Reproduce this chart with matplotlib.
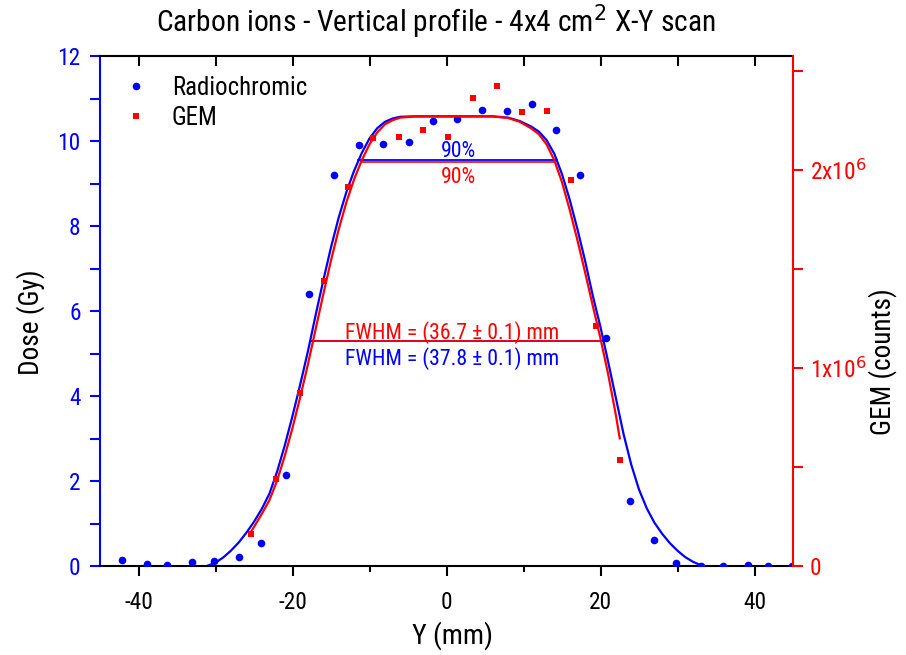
import os
import matplotlib
matplotlib.use("Agg")
import matplotlib.pyplot as plt
from matplotlib.ticker import MultipleLocator, FixedLocator, FuncFormatter
from matplotlib import font_manager
from matplotlib.font_manager import FontProperties

plt.rcParams['axes.unicode_minus'] = False

# pick a narrow sans font if one is installed
files = {os.path.basename(f.fname).lower(): f for f in font_manager.fontManager.ttflist}
prefs = ['liberationsansnarrow-regular.ttf', 'notosans-condensed.ttf',
         'robotocondensed-regular.ttf', 'roboto_condensed-regular.ttf',
         'opensans-condensed.ttf', 'opensans_condensed-regular.ttf',
         'dejavusanscondensed.ttf']
entry = None
for p in prefs:
    if p in files:
        entry = files[p]
        break
if entry is not None:
    FP = FontProperties(fname=entry.fname)
    FAM = entry.name
    K = 1.12
else:
    FP = FontProperties(family='Liberation Sans')
    FAM = 'Liberation Sans'
    K = 1.0
plt.rcParams['font.family'] = [FAM, 'DejaVu Sans']
plt.rcParams['mathtext.fontset'] = 'custom'
plt.rcParams['mathtext.rm'] = FAM
plt.rcParams['mathtext.it'] = FAM
plt.rcParams['mathtext.bf'] = FAM

def fp(size):
    f = FP.copy()
    f.set_size(size * K)
    return f

BLUE = '#0000FF'
RED = '#FF0000'

# ---- Radiochromic (Dose, Gy) ----
radio_x = [-42.2, -38.9, -36.3, -33.0, -30.2, -26.9, -24.1, -20.9, -17.8, -14.6,
           -11.3, -8.2, -4.9, -1.8, 1.4, 4.6, 7.8, 11.1, 14.2, 17.4,
           20.7, 23.8, 27.0, 29.8, 33.0, 35.9, 39.1, 41.8, 44.9]
radio_y = [0.14, 0.05, 0.02, 0.09, 0.12, 0.22, 0.53, 2.15, 6.39, 9.19,
           9.90, 9.93, 9.97, 10.48, 10.52, 10.73, 10.70, 10.88, 10.25, 9.19,
           5.37, 1.53, 0.61, 0.06, 0.01, 0.0, 0.02, 0.0, 0.0]

# ---- GEM (counts) ----
gem_x = [-25.4, -22.2, -19.0, -15.9, -12.75, -9.5, -6.2, -3.05, 0.15, 3.4,
         6.6, 9.8, 13.0, 16.2, 19.4, 22.5]
gem_y = [0.162e6, 0.441e6, 0.875e6, 1.438e6, 1.914e6, 2.160e6, 2.167e6, 2.202e6,
         2.167e6, 2.362e6, 2.423e6, 2.291e6, 2.298e6, 1.948e6, 1.209e6, 0.535e6]

# ---- fit curves ----
radio_fit_x = [-31.1, -30, -29, -28, -27, -26, -25, -24, -23, -22, -21, -20, -19, -18,
               -17, -16, -15, -14, -13, -12, -11, -10, -9, -8, -7, -6, -4, -2, 0, 2,
               4, 6, 8, 9.5, 11, 12, 13, 14, 15, 16, 17, 18, 19, 20, 21, 22, 23, 24,
               25, 26, 27, 28, 29, 30, 31, 32, 33, 33.4]
radio_fit_y = [0.0, 0.08, 0.20, 0.36, 0.55, 0.78, 1.04, 1.34, 1.70, 2.22, 2.84, 3.53, 4.27, 5.05,
               5.90, 6.72, 7.50, 8.20, 8.80, 9.30, 9.72, 10.06, 10.30, 10.45, 10.53, 10.57, 10.58, 10.58, 10.58, 10.58,
               10.58, 10.58, 10.55, 10.47, 10.34, 10.22, 10.02, 9.70, 9.22, 8.62, 7.93, 7.18, 6.36, 5.62, 4.80, 3.95, 3.10, 2.38,
               1.80, 1.36, 1.02, 0.76, 0.54, 0.36, 0.21, 0.10, 0.02, 0.0]

gem_fit_x = [-25.4, -25, -24, -23, -22, -21, -20, -19, -18, -17, -16, -15, -14, -13,
             -12, -11, -10, -9, -8, -7, -6, -4, -2, 0, 2, 4, 6, 8, 9.5, 11,
             12, 13, 14, 15, 16, 17, 18, 19, 20, 21, 22, 22.5]
gem_fit_y = [0.172e6, 0.197e6, 0.262e6, 0.332e6, 0.431e6, 0.556e6, 0.697e6, 0.852e6, 1.017e6, 1.195e6,
             1.371e6, 1.542e6, 1.699e6, 1.836e6, 1.952e6, 2.048e6, 2.128e6, 2.188e6, 2.229e6, 2.250e6,
             2.263e6, 2.269e6, 2.269e6, 2.269e6, 2.269e6, 2.269e6, 2.269e6, 2.261e6, 2.242e6, 2.209e6,
             2.179e6, 2.128e6, 2.048e6, 1.937e6, 1.798e6, 1.645e6, 1.482e6, 1.313e6, 1.148e6, 0.967e6,
             0.761e6, 0.644e6]

# level lines (90% and FWHM): x_start, x_end, level
radio_90 = [-11.5, 14.4, 9.56]
gem_90 = [-11.1, 14.0, 2.038e6]
radio_half = [-17.6, 20.4, 5.29]
gem_half = [-17.3, 20.0, 1.134e6]

fig = plt.figure(figsize=(9.06, 6.55), dpi=100)
ax = fig.add_axes([100/906, 1-566/655, 693/906, 510/655])
ax2 = ax.twinx()

ax.set_xlim(-45, 45)
ax.set_ylim(0, 12)
ax2.set_ylim(0, 2.574e6)

# blue
ax.plot(radio_fit_x, radio_fit_y, color=BLUE, lw=1.6, zorder=2)
ax.plot(radio_x, radio_y, 'o', color=BLUE, ms=5.5, mew=0, zorder=3, label='Radiochromic')
ax.plot(radio_90[:2], [radio_90[2]]*2, color=BLUE, lw=1.3, zorder=2)
ax.plot(radio_half[:2], [radio_half[2]]*2, color=BLUE, lw=1.2, zorder=2)

# red
ax2.plot(gem_fit_x, gem_fit_y, color=RED, lw=1.6, zorder=2)
ax2.plot(gem_x, gem_y, 's', color=RED, ms=5.0, mew=0, zorder=3, label='GEM')
ax2.plot(gem_90[:2], [gem_90[2]]*2, color=RED, lw=1.2, zorder=1)
ax2.plot(gem_half[:2], [gem_half[2]]*2, color=RED, lw=1.2, zorder=2)

# texts
ax.text(1.6, 9.76, '90%', color=BLUE, fontproperties=fp(14), ha='center', va='center')
ax.text(1.5, 9.15, '90%', color=RED, fontproperties=fp(14), ha='center', va='center')
ax.text(0.7, 5.50, 'FWHM = (36.7 ± 0.1) mm', color=RED, fontproperties=fp(14), ha='center', va='center')
ax.text(0.7, 4.88, 'FWHM = (37.8 ± 0.1) mm', color=BLUE, fontproperties=fp(14), ha='center', va='center')

# axes styling
for s in ['top', 'bottom']:
    ax.spines[s].set_color('black')
    ax.spines[s].set_linewidth(1.5)
ax.spines['left'].set_color(BLUE)
ax.spines['left'].set_linewidth(1.5)
ax.spines['right'].set_visible(False)
for s in ['top', 'bottom', 'left']:
    ax2.spines[s].set_visible(False)
ax2.spines['right'].set_color(RED)
ax2.spines['right'].set_linewidth(1.5)

ax.xaxis.set_major_locator(FixedLocator([-40, -20, 0, 20, 40]))
ax.xaxis.set_minor_locator(FixedLocator([-30, -10, 10, 30]))
ax.tick_params(axis='x', which='major', direction='out', length=7, width=1.5, pad=11)
ax.tick_params(axis='x', which='minor', direction='out', length=4, width=1.5)

sec = ax.secondary_xaxis('top')
sec.xaxis.set_major_locator(FixedLocator([-40, -30, -20, -10, 0, 10, 20, 30, 40]))
sec.tick_params(axis='x', direction='in', length=7, width=1.5, labeltop=False)
sec.spines['top'].set_visible(False)

ax.yaxis.set_major_locator(MultipleLocator(2))
ax.yaxis.set_minor_locator(MultipleLocator(1))
ax.tick_params(axis='y', which='both', direction='out', length=7, width=1.5, color=BLUE,
               labelcolor=BLUE, pad=7)

ax2.yaxis.set_major_locator(FixedLocator([0, 1e6, 2e6]))
ax2.yaxis.set_minor_locator(FixedLocator([0.5e6, 1.5e6, 2.5e6]))
def fmt(v, pos):
    if v == 0:
        return '0'
    return r'%dx10$^{6}$' % round(v / 1e6)
ax2.yaxis.set_major_formatter(FuncFormatter(fmt))
ax2.tick_params(axis='y', which='both', direction='out', length=7, width=1.5, color=RED,
                labelcolor=RED, pad=5)

fig.canvas.draw()
for lbl in ax.get_xticklabels() + ax.get_yticklabels() + ax2.get_yticklabels():
    lbl.set_fontproperties(fp(15))

ax.set_xlabel('Y (mm)', fontproperties=fp(18))
ax.xaxis.set_label_coords(0.508, -0.108)
ax.set_ylabel('Dose (Gy)', fontproperties=fp(17.5))
ax.yaxis.set_label_coords(-0.080, 0.478)
ax2.set_ylabel('GEM (counts)', fontproperties=fp(17.5))
ax2.yaxis.set_label_coords(1.108, 0.40)
fig.text(436/906, 1-22/655, 'Carbon ions - Vertical profile - 4x4 cm$^2$ X-Y scan',
         fontproperties=fp(19), ha='center', va='center')

h1, l1 = ax.get_legend_handles_labels()
h2, l2 = ax2.get_legend_handles_labels()
ax2.legend(h1 + h2, l1 + l2, loc='upper left', bbox_to_anchor=(0.005, 0.995), frameon=False,
           prop=fp(16), handlelength=1.2, handletextpad=0.85, labelspacing=0.25, borderaxespad=0.3)

fig.savefig('out.png', dpi=100)
